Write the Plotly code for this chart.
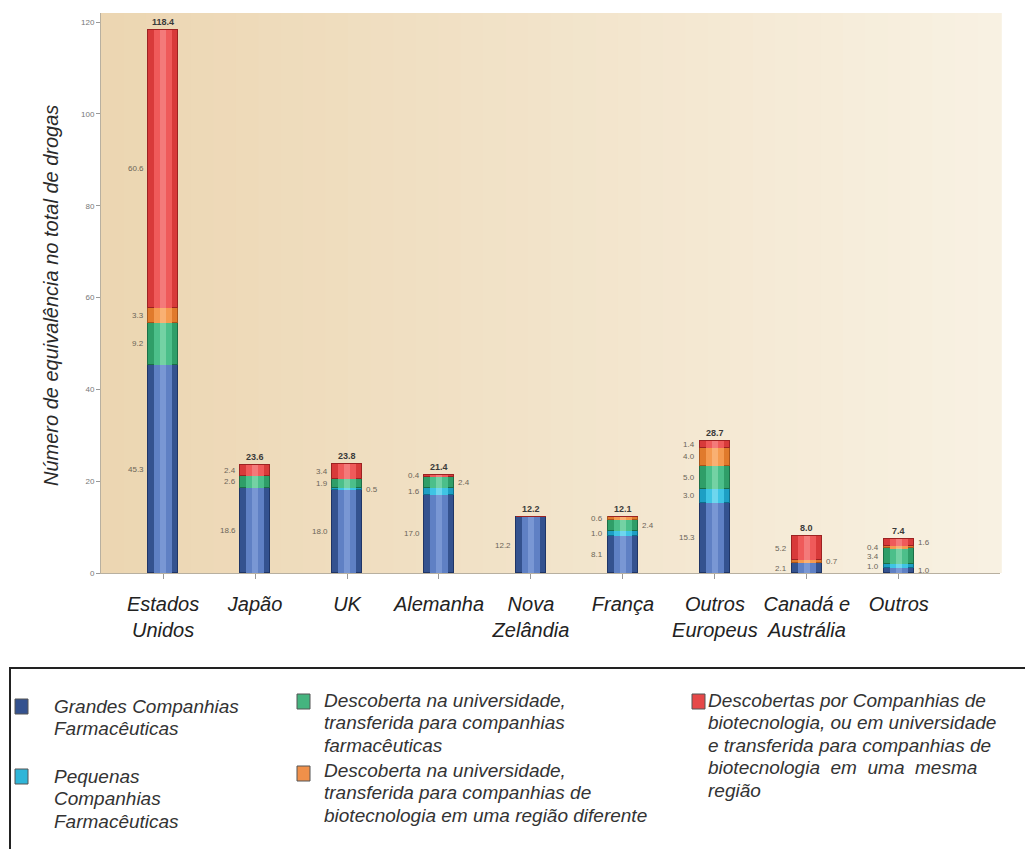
import plotly.graph_objects as go

# ---- data -----------------------------------------------------------------
categorias = ["Estados<br>Unidos", "Japão", "UK", "Alemanha", "Nova<br>Zelândia",
              "França", "Outros<br>Europeus", "Canadá e<br>Austrália", "Outros"]

grandes_farma = [45.3, 18.6, 18.0, 17.0, 12.2, 8.1, 15.3, 2.1, 1.0]
pequenas_farma = [0.0, 0.0, 0.5, 1.6, 0.0, 1.0, 3.0, 0.0, 1.0]
univ_para_farma = [9.2, 2.6, 1.9, 2.4, 0.0, 2.4, 5.0, 0.0, 3.4]
univ_para_biotec_outra_regiao = [3.3, 0.0, 0.0, 0.0, 0.0, 0.6, 4.0, 0.7, 0.4]
biotec_mesma_regiao = [60.6, 2.4, 3.4, 0.4, 0.0, 0.0, 1.4, 5.2, 1.6]

y_ticks = [0, 20, 40, 60, 80, 100, 120]

series = [
    (grandes_farma, "#34528f", "#5f80c4", "#8aa6e0", "#1f3566"),
    (pequenas_farma, "#1d9fc4", "#3fc4e4", "#8ee2f5", "#0f6f8c"),
    (univ_para_farma, "#2f9e68", "#4cbf8a", "#8fe0b6", "#1c6e46"),
    (univ_para_biotec_outra_regiao, "#e07a2c", "#f49a50", "#fbc08a", "#a9541a"),
    (biotec_mesma_regiao, "#d83a3a", "#ef5a5a", "#f79090", "#9c2222"),
]

# segment labels drawn on the right side of the bar: (category, series)
RIGHT_LABELS = {(2, 1), (3, 2), (5, 2), (7, 3), (8, 4), (8, 0)}

# ---- geometry (pixels of the 1025x849 page) --------------------------------
W, H = 1025, 849
L, R, T, B = 101, 1000, 13, 573          # plot area
X_RANGE = [-0.675, 9.1]
Y_RANGE = [0, 122]


def px(x):
    return (x - L) / (R - L)


def py(y):
    return (B - y) / (B - T)


xs = list(range(len(categorias)))
fig = go.Figure()

# main stacked bars + two lighter overlays that give the cylinder look
for vals, base, mid, hi, edge in series:
    fig.add_trace(go.Bar(x=xs, y=vals, width=0.33, marker=dict(color=base, line=dict(color=edge, width=1)),
                         xaxis="x", yaxis="y", showlegend=False, hoverinfo="skip"))
    fig.add_trace(go.Bar(x=xs, y=vals, width=0.2, marker=dict(color=mid, line=dict(width=0)),
                         xaxis="x2", yaxis="y", showlegend=False, hoverinfo="skip"))
    fig.add_trace(go.Bar(x=xs, y=vals, width=0.07, marker=dict(color=hi, line=dict(width=0), opacity=0.6),
                         xaxis="x3", yaxis="y", showlegend=False, hoverinfo="skip"))

# ---- value labels ---------------------------------------------------------
annotations = []
totals = [sum(s[0][i] for s in series) for i in xs]
for i in xs:
    cum = 0.0
    for k, s in enumerate(series):
        v = s[0][i]
        if v > 0:
            right = (i, k) in RIGHT_LABELS
            annotations.append(dict(
                x=i + (0.19 if right else -0.19), y=cum + v / 2, xref="x", yref="y",
                text=f"{v:.1f}", showarrow=False,
                xanchor="left" if right else "right", yanchor="middle",
                font=dict(size=8, color="#6b6558", family="Liberation Sans")))
        cum += v
    annotations.append(dict(
        x=i, y=totals[i], xref="x", yref="y", text=f"<b>{totals[i]:.1f}</b>",
        showarrow=False, yanchor="bottom", yshift=1,
        font=dict(size=9, color="#3a3a3a", family="Liberation Sans")))

# y-axis title
annotations.append(dict(
    x=px(38), y=py(296), xref="paper", yref="paper", textangle=-90,
    text="Número de equivalência no total de drogas", showarrow=False,
    font=dict(size=20, color="#2a2a2a", family="Liberation Sans", style="italic")))

# ---- custom legend -------------------------------------------------------
legend_items = [
    (15, 699, "#34528f", 52, 706, ["Grandes Companhias", "Farmacêuticas"]),
    (15, 769, "#2fb5d8", 52, 776, ["Pequenas", "Companhias", "Farmacêuticas"]),
    (297, 694, "#45b47f", 322, 700, ["Descoberta na universidade,",
                                      "transferida para companhias",
                                      "farmacêuticas"]),
    (297, 766, "#f0904a", 322, 770, ["Descoberta na universidade,",
                                      "transferida para companhias de",
                                      "biotecnologia em uma região diferente"]),
    (692, 694, "#e64848", 706, 700, ["Descobertas por Companhias de",
                                      "biotecnologia, ou em universidade",
                                      "e transferida para companhias de",
                                      "biotecnologia  em  uma  mesma",
                                      "região"]),
]
LINE_STEP = 22.5

shapes = []
# plot-area background: warm gradient from left to right
n_strips = 40
c0, c1 = (236, 214, 178), (248, 241, 226)
for k in range(n_strips):
    f = k / (n_strips - 1)
    col = tuple(int(round(c0[j] + (c1[j] - c0[j]) * f)) for j in range(3))
    shapes.append(dict(type="rect", xref="paper", yref="paper",
                       x0=k / n_strips, x1=(k + 1) / n_strips + 0.002, y0=0, y1=1,
                       fillcolor=f"rgb{col}", line=dict(width=0), layer="below"))

# legend frame
shapes.append(dict(type="rect", xref="paper", yref="paper",
                   x0=px(10), x1=px(1040), y0=py(668), y1=py(860),
                   line=dict(color="#222222", width=2), fillcolor="rgba(0,0,0,0)"))

for sx, sy, col, tx, ty, lines in legend_items:
    shapes.append(dict(type="rect", xref="paper", yref="paper",
                       x0=px(sx), x1=px(sx + 13), y0=py(sy + 15), y1=py(sy),
                       fillcolor=col, line=dict(color="#555555", width=1)))
    for n, line in enumerate(lines):
        annotations.append(dict(
            x=px(tx), y=py(ty + n * LINE_STEP), xref="paper", yref="paper",
            xanchor="left", yanchor="middle", showarrow=False, text=line,
            font=dict(size=19, color="#333333", family="Liberation Sans", style="italic")))

axis_common = dict(range=X_RANGE, showgrid=False, zeroline=False)
fig.update_layout(
    width=W, height=H,
    margin=dict(l=L, r=W - R, t=T, b=H - B),
    paper_bgcolor="white", plot_bgcolor="#f1e5cd",
    barmode="stack", bargap=0,
    xaxis=dict(**axis_common, tickmode="array", tickvals=xs, ticktext=categorias,
               tickangle=0,
               ticks="outside", ticklen=5, tickcolor="#999999", ticklabelstandoff=8,
               showline=True, linecolor="#b8b0a0", linewidth=1,
               tickfont=dict(size=20, color="#222222", family="Liberation Sans", style="italic")),
    xaxis2=dict(**axis_common, overlaying="x", visible=False),
    xaxis3=dict(**axis_common, overlaying="x", visible=False),
    yaxis=dict(range=Y_RANGE, tickmode="array", tickvals=y_ticks,
               showgrid=False, zeroline=False, showline=True, linecolor="#b8b0a0",
               ticks="outside", ticklen=4, tickcolor="#999999",
               tickfont=dict(size=8, color="#777777", family="Liberation Sans")),
    shapes=shapes, annotations=annotations,
)

fig.write_html("out.html")
